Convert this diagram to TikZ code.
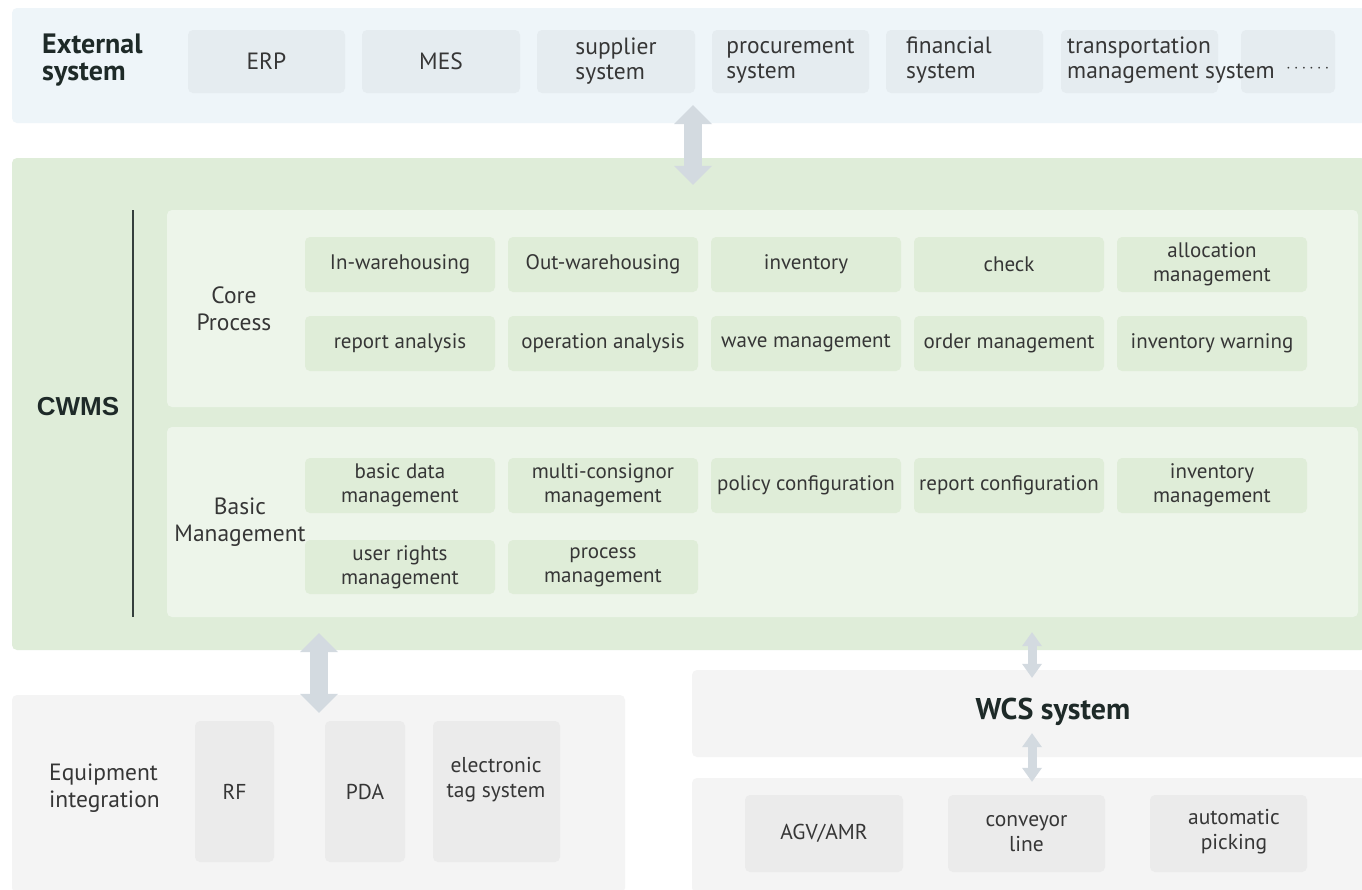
\documentclass[tikz,border=0pt]{standalone}
\usepackage{fontspec}
\setmainfont{PT Sans}
\newfontfamily\arialfont{Liberation Sans}
\usetikzlibrary{arrows.meta}
\definecolor{extbg}{HTML}{EEF5F9}
\definecolor{extitem}{HTML}{E5ECF0}
\definecolor{cwmsbg}{HTML}{DFEDD9}
\definecolor{panelbg}{HTML}{EDF5EA}
\definecolor{itembg}{HTML}{DFEDD8}
\definecolor{graybg}{HTML}{F4F4F4}
\definecolor{grayitem}{HTML}{EBEBEB}
\definecolor{arrowc}{HTML}{D3DAE0}
\definecolor{txt}{HTML}{363636}
\definecolor{headtxt}{HTML}{1E2A28}
\newcommand\mybox[7]{\node[#1, minimum width={(#5-#3)*1pt}, minimum height={(#6-#4)*1pt}] (#2) at ({(#3+#5)/2},{(#4+#6)/2}) {#7};}
\tikzset{
  base/.style={rectangle, rounded corners=5pt, inner sep=0pt, align=center, text=txt, font=\fontsize{21}{24}\selectfont},
  band/.style={base, fill=#1},
  item/.style={base, fill=itembg},
  extbox/.style={base, fill=extitem, align=left, font=\fontsize{23.5}{25}\selectfont},
  grayitembox/.style={base, fill=grayitem, font=\fontsize{21.5}{25}\selectfont},
  lbl/.style={inner sep=0pt, text=txt, font=\fontsize{23.5}{27}\selectfont},
  smalllbl/.style={inner sep=0pt, text=txt, font=\fontsize{21.5}{25}\selectfont},
  headlbl/.style={inner sep=0pt, text=headtxt, font=\fontsize{28}{27}\selectfont\bfseries},
  bigarrow/.style={draw=arrowc, line width=18pt, {Triangle[width=38pt,length=19pt,line width=0pt]}-{Triangle[width=38pt,length=19pt,line width=0pt]}},
  smallarrow/.style={draw=arrowc, line width=9pt, {Triangle[width=20pt,length=14pt,line width=0pt]}-{Triangle[width=20pt,length=14pt,line width=0pt]}}
}
\begin{document}
\begin{tikzpicture}[x=1pt,y=-1pt]
\useasboundingbox (0,0) rectangle (1362,889);
\fill[white] (0,0) rectangle (1362,889);

% External system band
\mybox{band=extbg}{ext}{12}{8}{1366}{123}{}
\node[headlbl, anchor=west, align=left] (extlbl) at (42,60) {External\\system};
\mybox{extbox}{erp}{188}{30}{345}{93}{ERP}
\mybox{extbox}{mes}{362}{30}{520}{93}{MES}
\mybox{extbox}{sup}{537}{30}{695}{93}{supplier\\system}
\mybox{extbox}{proc}{712}{30}{869}{93}{procurement\\system}
\mybox{extbox}{fin}{886}{30}{1043}{93}{}
\mybox{extbox}{trans}{1061}{30}{1218}{93}{}
\mybox{extbox}{more}{1241}{30}{1335}{93}{}
\node[lbl, anchor=west, align=left, font=\fontsize{23.5}{25}\selectfont] (fintxt) at (906,60) {financial\\system};
\node[lbl, anchor=west, align=left, font=\fontsize{23.5}{25}\selectfont] (transtxt) at (1067,60) {transportation\\management system};
\node[lbl, anchor=west] (dots) at (1286,69) {\fontsize{16}{16}\selectfont$\cdots\cdots$};

% CWMS band
\mybox{band=cwmsbg}{cwms}{12}{158}{1366}{650}{}
\node[inner sep=0pt, text=headtxt, font=\fontsize{26}{28}\selectfont\arialfont\bfseries] (cwmslbl) at (78,407) {CWMS};
\coordinate (vlt) at (133,210);
\coordinate (vlb) at (133,617);
\draw[line width=1.5pt, draw=headtxt!90] (vlt) -- (vlb);

\mybox{band=panelbg}{core}{167}{210}{1358}{407}{}
\mybox{band=panelbg}{basic}{167}{427}{1358}{617}{}
\node[lbl, align=center] (corelbl) at (234,309) {Core\\Process};
\node[lbl, align=center] (basiclbl) at (240,522) {Basic\\Management};

% Core process items
\mybox{item}{c11}{305}{237}{495}{292}{In-warehousing}
\mybox{item}{c12}{508}{237}{698}{292}{Out-warehousing}
\mybox{item}{c13}{711}{237}{901}{292}{inventory}
\mybox{item}{c14}{914}{237}{1104}{292}{check}
\mybox{item}{c15}{1117}{237}{1307}{292}{allocation\\management}
\mybox{item}{c21}{305}{316}{495}{371}{report analysis}
\mybox{item}{c22}{508}{316}{698}{371}{operation analysis}
\mybox{item}{c23}{711}{316}{901}{371}{wave management}
\mybox{item}{c24}{914}{316}{1104}{371}{order management}
\mybox{item}{c25}{1117}{316}{1307}{371}{inventory warning}

% Basic management items
\mybox{item}{b11}{305}{458}{495}{513}{basic data\\management}
\mybox{item}{b12}{508}{458}{698}{513}{multi-consignor\\management}
\mybox{item}{b13}{711}{458}{901}{513}{policy configuration}
\mybox{item}{b14}{914}{458}{1104}{513}{report configuration}
\mybox{item}{b15}{1117}{458}{1307}{513}{inventory\\management}
\mybox{item}{b21}{305}{540}{495}{594}{user rights\\management}
\mybox{item}{b22}{508}{540}{698}{594}{process\\management}

% Equipment integration
\mybox{band=graybg}{equip}{12}{695}{625}{893}{}
\node[lbl, anchor=west, align=left] (equiplbl) at (49,788) {Equipment\\integration};
\mybox{grayitembox}{rf}{195}{721}{274}{862}{RF}
\mybox{grayitembox}{pda}{325}{721}{405}{862}{PDA}
\mybox{grayitembox}{etag}{433}{721}{560}{862}{}
\node[smalllbl, align=center] (etagtxt) at (496,780) {electronic\\tag system};

% WCS
\mybox{band=graybg}{wcs}{692}{670}{1366}{757}{}
\node[headlbl, font=\fontsize{30}{30}\selectfont\bfseries] (wcslbl) at (1053,712) {WCS system};
\mybox{band=graybg}{dev}{692}{778}{1366}{893}{}
\mybox{grayitembox}{agv}{745}{795}{903}{872}{AGV/AMR}
\mybox{grayitembox}{conv}{948}{795}{1105}{872}{conveyor\\line}
\mybox{grayitembox}{auto}{1150}{795}{1307}{872}{}
\node[smalllbl, align=center] (autotxt) at (1234,832) {automatic\\picking};

% Arrows
\coordinate (ax1) at (693,0);
\coordinate (ax2) at (319,0);
\coordinate (ax3) at (1032,0);
\draw[bigarrow] ([yshift=18pt]ext.south -| ax1) -- ([yshift=-27pt]cwms.north -| ax1);
\draw[bigarrow] ([yshift=17pt]cwms.south -| ax2) -- ([yshift=-18pt]equip.north -| ax2);
\draw[smallarrow] ([yshift=18pt]cwms.south -| ax3) -- ([yshift=-8pt]wcs.north -| ax3);
\draw[smallarrow] ([yshift=24pt]wcs.south -| ax3) -- ([yshift=-4pt]dev.north -| ax3);
\end{tikzpicture}
\end{document}
